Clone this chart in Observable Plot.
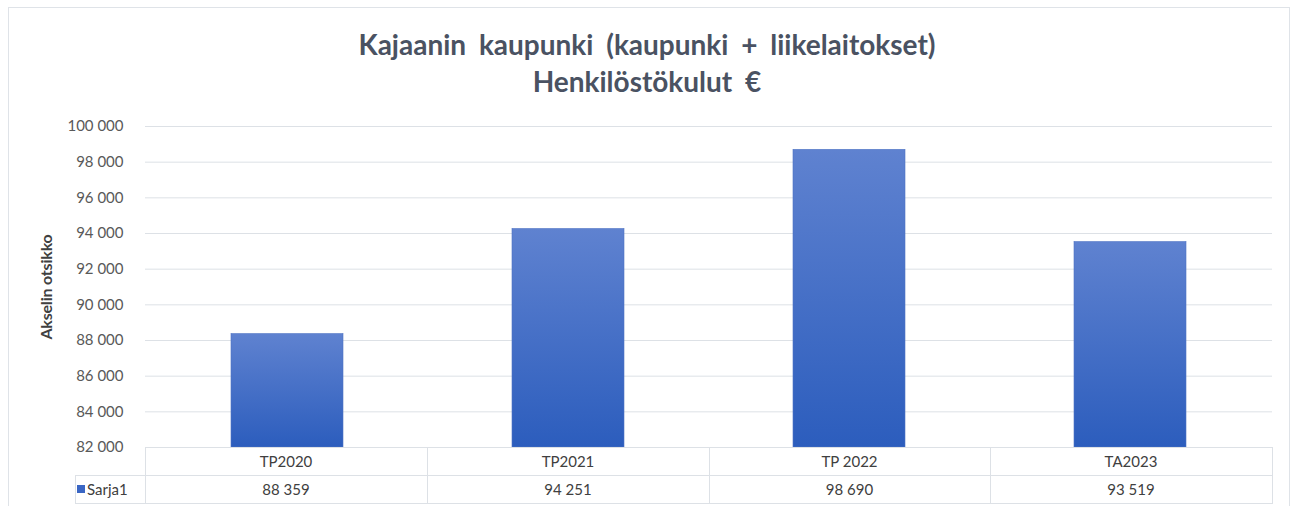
<!DOCTYPE html>
<html>
<head>
<meta charset="utf-8">
<script src="https://cdn.jsdelivr.net/npm/d3@7"></script>
<script src="https://cdn.jsdelivr.net/npm/@observablehq/plot@0.6"></script>
<style>
  body { margin: 0; background: #fff; font-family: Lato, "Open Sans", sans-serif; }
  #wrap { position: relative; width: 1294px; height: 506px; overflow: hidden; }
  #frame { position: absolute; left: 8px; top: 7px; width: 1282px; height: 520px; border: 1px solid #dfe3e8; box-sizing: border-box; }
  .title { position: absolute; left: 0; width: 1294px; text-align: center; font-weight: bold; color: #4a5262; font-size: 28px; line-height: 34px; word-spacing: 6px; }
  #chart { position: absolute; left: 0; top: 100px; }
  .cell { position: absolute; box-sizing: border-box; text-align: center; color: #404040; font-size: 15px; line-height: 28px; }
  .hline, .vline { position: absolute; background: #dde1e6; }
  #ytitle { position: absolute; left: 45px; top: 287px; transform: translate(-50%, -50%) rotate(-90deg); font-weight: bold; font-size: 16px; color: #404040; white-space: nowrap; letter-spacing: -0.2px; }
</style>
</head>
<body>
<div id="wrap">
  <div id="frame"></div>
  <div class="title" style="top:27px">Kajaanin kaupunki (kaupunki + liikelaitokset)</div>
  <div class="title" style="top:64px">Henkilöstökulut €</div>
  <div id="ytitle">Akselin otsikko</div>
  <div id="chart"></div>
</div>
<script>
const categories = ["TP2020", "TP2021", "TP 2022", "TA2023"];
const values = [88359, 94251, 98690, 93519];
const seriesName = "Sarja1";
const yTicks = [82000, 84000, 86000, 88000, 90000, 92000, 94000, 96000, 98000, 100000];

const data = categories.map((c, i) => ({category: c, value: values[i]}));
const fmt = d3.formatLocale({decimal: ",", thousands: "\u00a0", grouping: [3], currency: ["", " €"]}).format(",d");

const chart = Plot.plot({
  width: 1294,
  height: 360,
  marginLeft: 145,
  marginRight: 22,
  marginTop: 26,
  marginBottom: 13,
  style: {fontFamily: "Lato, 'Open Sans', sans-serif", fontSize: "15px", color: "#595959", background: "transparent"},
  x: {domain: categories, paddingInner: 0.6, paddingOuter: 0.3, axis: null},
  y: {domain: [82000, 100000], ticks: yTicks, tickFormat: fmt, tickSize: 0, tickPadding: 22, label: null},
  marks: [
    Plot.gridY(yTicks, {stroke: "#dde1e6", strokeOpacity: 1, strokeWidth: 1}),
    Plot.barY(data, {x: "category", y1: 82000, y2: "value", fill: "url(#barGrad)", stroke: "#4d72c4", strokeWidth: 0.6}),
    Plot.axisY({ticks: yTicks, tickFormat: fmt, tickSize: 0, tickPadding: 22, fill: "#595959", fontSize: 15})
  ]
});

// gradient definition for the bars
const svg = d3.select(chart);
const grad = svg.insert("defs", ":first-child").append("linearGradient")
  .attr("id", "barGrad").attr("x1", 0).attr("y1", 0).attr("x2", 0).attr("y2", 1);
grad.append("stop").attr("offset", "0%").attr("stop-color", "#5f82d0");
grad.append("stop").attr("offset", "100%").attr("stop-color", "#2c5dbd");

document.getElementById("chart").appendChild(chart);

// data table under the plot, aligned with the x scale
const ys = chart.scale("y");
const top0 = 100 + ys.apply(82000);
const rowH = 28;
const right = 1294 - 22;
const plotLeft = 145;
const colLeft = i => Math.round(plotLeft + i * (right - plotLeft) / categories.length);
const wrap = document.getElementById("wrap");
function add(cls, style, text) {
  const d = document.createElement("div");
  d.className = cls;
  Object.assign(d.style, style);
  if (text != null) d.textContent = text;
  wrap.appendChild(d);
  return d;
}
const legendLeft = 75;
// horizontal lines
add("hline", {left: plotLeft + "px", top: top0 + "px", width: (right - plotLeft + 1) + "px", height: "1px"});
add("hline", {left: legendLeft + "px", top: (top0 + rowH) + "px", width: (right - legendLeft + 1) + "px", height: "1px"});
add("hline", {left: legendLeft + "px", top: (top0 + 2 * rowH) + "px", width: (right - legendLeft + 1) + "px", height: "1px"});
// vertical lines
add("vline", {left: legendLeft + "px", top: (top0 + rowH) + "px", width: "1px", height: rowH + "px"});
for (let i = 0; i <= categories.length; i++) {
  add("vline", {left: colLeft(i) + "px", top: top0 + "px", width: "1px", height: (2 * rowH) + "px"});
}
categories.forEach((c, i) => {
  const l = colLeft(i), w = colLeft(i + 1) - l;
  add("cell", {left: l + "px", top: top0 + "px", width: w + "px", height: rowH + "px"}, c);
  add("cell", {left: l + "px", top: (top0 + rowH) + "px", width: w + "px", height: rowH + "px"}, fmt(values[i]));
});
// legend key
add("cell", {left: "77px", top: (top0 + rowH + 10) + "px", width: "8px", height: "8px", background: "#3a66c4"});
add("cell", {left: "87px", top: (top0 + rowH) + "px", width: "58px", height: rowH + "px", textAlign: "left"}, seriesName);
</script>
</body>
</html>
